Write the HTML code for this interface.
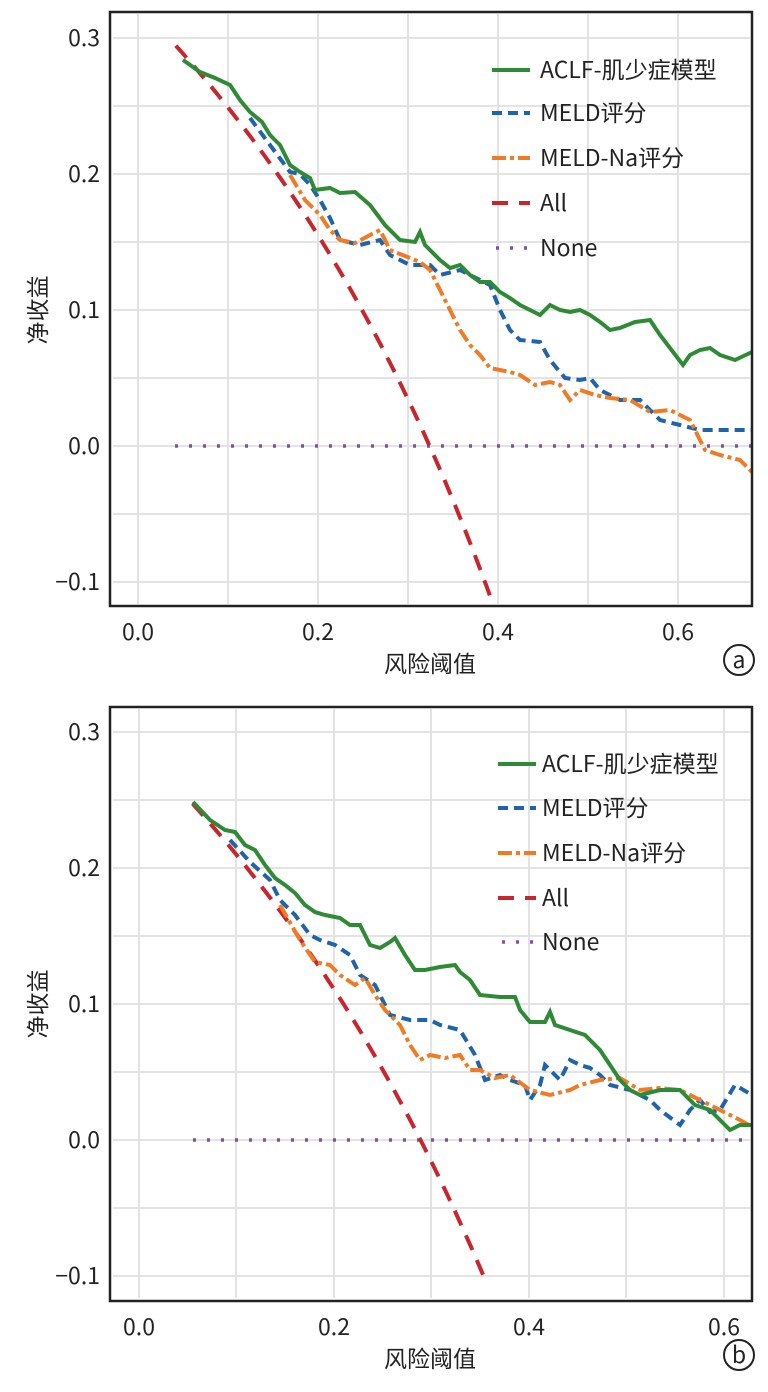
<!DOCTYPE html>
<html><head><meta charset="utf-8"><style>
body{margin:0;background:#fff;}
svg text{font-family:"Noto Sans CJK SC","Liberation Sans",sans-serif;fill:#222;}
</style></head><body>
<svg id="s" width="768" height="1387" viewBox="0 0 768 1387" xmlns="http://www.w3.org/2000/svg">
<g stroke="#e3e3e3" stroke-width="2">
<line x1="138" y1="14" x2="138" y2="604"/><line x1="228" y1="14" x2="228" y2="604"/><line x1="318" y1="14" x2="318" y2="604"/><line x1="408" y1="14" x2="408" y2="604"/><line x1="498" y1="14" x2="498" y2="604"/><line x1="588" y1="14" x2="588" y2="604"/><line x1="678" y1="14" x2="678" y2="604"/>
<line x1="113" y1="38" x2="750" y2="38"/><line x1="113" y1="106" x2="750" y2="106"/><line x1="113" y1="174" x2="750" y2="174"/><line x1="113" y1="242" x2="750" y2="242"/><line x1="113" y1="310" x2="750" y2="310"/><line x1="113" y1="378" x2="750" y2="378"/><line x1="113" y1="446" x2="750" y2="446"/><line x1="113" y1="514" x2="750" y2="514"/><line x1="113" y1="582" x2="750" y2="582"/>
<line x1="139" y1="709" x2="139" y2="1298"/><line x1="236" y1="709" x2="236" y2="1298"/><line x1="334" y1="709" x2="334" y2="1298"/><line x1="431" y1="709" x2="431" y2="1298"/><line x1="529" y1="709" x2="529" y2="1298"/><line x1="626" y1="709" x2="626" y2="1298"/><line x1="724" y1="709" x2="724" y2="1298"/>
<line x1="113" y1="732" x2="750" y2="732"/><line x1="113" y1="800" x2="750" y2="800"/><line x1="113" y1="868" x2="750" y2="868"/><line x1="113" y1="936" x2="750" y2="936"/><line x1="113" y1="1004" x2="750" y2="1004"/><line x1="113" y1="1072" x2="750" y2="1072"/><line x1="113" y1="1140" x2="750" y2="1140"/><line x1="113" y1="1208" x2="750" y2="1208"/><line x1="113" y1="1276" x2="750" y2="1276"/>
</g>
<polyline fill="none" stroke="#7b52a8" stroke-width="3.5" stroke-dasharray="3,11" points="175,446 752,446"/>
<path id="ra" fill="none" stroke="#c8262e" stroke-width="4" stroke-dasharray="16,11"/>
<polyline fill="none" stroke="#1f63a8" stroke-width="4" stroke-dasharray="10,6" points="250,118 270,145 290,172 300,174 310,185 320,200 330,218 340,240 360,245 380,240 390,255 410,265 430,265 440,275 460,270 480,280 490,285 500,310 510,330 520,340 540,342 550,360 565,378 580,380 590,378 600,390 620,400 640,400 650,410 660,420 680,425 700,430 752,430"/>
<polyline fill="none" stroke="#f07b24" stroke-width="4" stroke-dasharray="14,4,4,4" points="290,175 305,200 320,215 330,230 340,240 355,243 370,235 380,230 390,250 410,258 420,262 430,270 440,290 450,310 460,330 470,345 480,355 490,368 500,370 510,372 520,375 535,385 550,382 560,385 570,400 580,390 595,395 610,398 630,400 650,412 670,410 690,420 705,450 720,455 740,460 752,472"/>
<polyline fill="none" stroke="#2f8a36" stroke-width="4" points="183,60 200,72 215,78 230,85 240,100 250,112 262,122 270,135 280,145 290,165 300,172 310,178 315,190 330,188 340,193 355,192 370,205 385,225 400,240 415,242 420,232 425,245 440,260 450,268 460,265 470,275 480,282 490,282 500,292 510,298 520,305 530,310 540,315 550,305 560,310 570,312 580,310 590,315 600,322 610,330 620,328 635,322 650,320 660,335 670,348 683,365 690,355 700,350 710,348 720,355 735,360 752,352"/>
<polyline fill="none" stroke="#7b52a8" stroke-width="3.5" stroke-dasharray="3,11" points="193,1140 752,1140"/>
<path id="rb" fill="none" stroke="#c8262e" stroke-width="4" stroke-dasharray="16,11"/>
<polyline fill="none" stroke="#1f63a8" stroke-width="4" stroke-dasharray="10,6" points="230,840 250,862 270,880 280,900 295,915 310,935 320,940 335,945 350,955 360,975 375,985 390,1015 410,1020 430,1020 440,1025 460,1030 475,1055 485,1080 500,1075 510,1080 525,1085 530,1100 540,1085 545,1065 560,1080 570,1060 580,1065 590,1068 600,1075 610,1085 630,1090 650,1100 660,1110 680,1125 690,1110 700,1100 710,1112 720,1110 735,1085 752,1095"/>
<polyline fill="none" stroke="#f07b24" stroke-width="4" stroke-dasharray="14,4,4,4" points="280,905 300,940 315,962 330,965 340,975 355,985 365,978 375,995 385,1010 400,1025 410,1045 420,1060 430,1055 445,1058 460,1055 470,1070 480,1070 495,1078 510,1075 530,1090 550,1095 570,1090 580,1085 600,1080 620,1078 640,1090 660,1088 680,1090 700,1100 720,1110 740,1120 752,1127"/>
<polyline fill="none" stroke="#2f8a36" stroke-width="4" points="193,802 210,820 225,830 235,832 245,845 255,850 265,865 275,878 285,885 295,893 305,905 315,912 325,915 340,918 350,925 360,925 370,945 380,948 390,942 395,938 405,955 415,970 425,970 440,967 455,965 460,972 470,980 480,995 500,997 515,997 520,1010 530,1022 545,1022 550,1012 555,1025 570,1030 585,1035 600,1050 610,1065 620,1080 630,1090 640,1095 660,1090 680,1090 695,1105 710,1110 720,1120 730,1130 740,1125 752,1125"/>
<rect x="110" y="12" width="642" height="594" fill="none" stroke="#222" stroke-width="2.5"/>
<rect x="110" y="707" width="642" height="594" fill="none" stroke="#222" stroke-width="2.5"/>
<g font-size="23">
<line x1="492" y1="70" x2="530" y2="70" stroke="#2f8a36" stroke-width="4"/><text x="540" y="78">ACLF-肌少症模型</text>
<line x1="492" y1="113" x2="530" y2="113" stroke="#1f63a8" stroke-width="4" stroke-dasharray="10,6"/><text x="540" y="121">MELD评分</text>
<line x1="492" y1="158" x2="530" y2="158" stroke="#f07b24" stroke-width="4" stroke-dasharray="14,4,4,4"/><text x="540" y="166">MELD-Na评分</text>
<line x1="492" y1="203" x2="530" y2="203" stroke="#c8262e" stroke-width="4" stroke-dasharray="16,11"/><text x="540" y="211">All</text>
<line x1="496" y1="248" x2="530" y2="248" stroke="#7b52a8" stroke-width="3.5" stroke-dasharray="3,11"/><text x="540" y="256">None</text>
<line x1="498" y1="764" x2="536" y2="764" stroke="#2f8a36" stroke-width="4"/><text x="542" y="772">ACLF-肌少症模型</text>
<line x1="498" y1="808" x2="536" y2="808" stroke="#1f63a8" stroke-width="4" stroke-dasharray="10,6"/><text x="542" y="816">MELD评分</text>
<line x1="498" y1="853" x2="536" y2="853" stroke="#f07b24" stroke-width="4" stroke-dasharray="14,4,4,4"/><text x="542" y="861">MELD-Na评分</text>
<line x1="498" y1="898" x2="536" y2="898" stroke="#c8262e" stroke-width="4" stroke-dasharray="16,11"/><text x="542" y="906">All</text>
<line x1="502" y1="942" x2="536" y2="942" stroke="#7b52a8" stroke-width="3.5" stroke-dasharray="3,11"/><text x="542" y="950">None</text>
<g text-anchor="end">
<text x="100" y="46">0.3</text><text x="100" y="182">0.2</text><text x="100" y="318">0.1</text><text x="100" y="454">0.0</text><text x="100" y="590">−0.1</text>
<text x="100" y="740">0.3</text><text x="100" y="876">0.2</text><text x="100" y="1012">0.1</text><text x="100" y="1148">0.0</text><text x="100" y="1284">−0.1</text>
</g>
<g text-anchor="middle">
<text x="138" y="640">0.0</text><text x="318" y="640">0.2</text><text x="498" y="640">0.4</text><text x="678" y="640">0.6</text>
<text x="139" y="1335">0.0</text><text x="334" y="1335">0.2</text><text x="529" y="1335">0.4</text><text x="724" y="1335">0.6</text>
<text x="430" y="672">风险阈值</text><text x="430" y="1367">风险阈值</text>
<text transform="translate(46,310) rotate(-90)">净收益</text>
<text transform="translate(46,1004) rotate(-90)">净收益</text>
</g>
<circle cx="739" cy="660" r="15" fill="none" stroke="#222" stroke-width="2"/><text x="739" y="668" text-anchor="middle">a</text>
<circle cx="739" cy="1355" r="15" fill="none" stroke="#222" stroke-width="2"/><text x="739" y="1363" text-anchor="middle">b</text>
</g>
</svg>
<script>
function curve(id,p,t0,t1,x0,sx,y0,sy){var d="";for(var i=0;i<=60;i++){var t=t0+(t1-t0)*i/60;var v=p-(1-p)*t/(1-t);d+=(i?"L":"M")+(x0+t*sx).toFixed(1)+","+(y0-v*sy).toFixed(1);}document.getElementById(id).setAttribute("d",d);}
curve("ra",0.324,0.042,0.392,138,900,446,1360);
curve("rb",0.2887,0.055,0.357,139,975,1140,1360);
</script>
</body></html>
